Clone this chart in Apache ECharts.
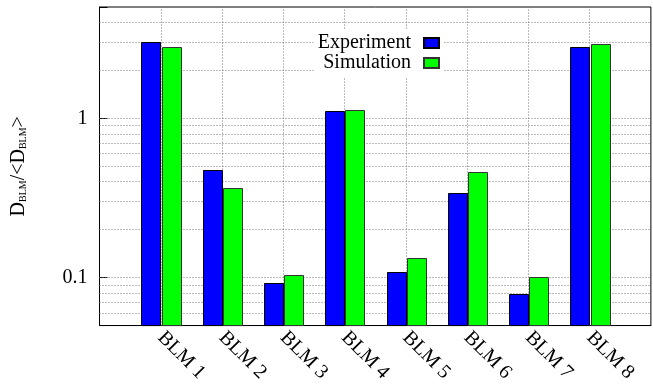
<!DOCTYPE html>
<html>
<head>
<meta charset="utf-8">
<script src="https://cdn.jsdelivr.net/npm/echarts@6/dist/echarts.min.js"></script>
<style>html,body{margin:0;padding:0;background:#fff;}#chart{width:653px;height:385px;}</style>
</head>
<body>
<div id="chart"></div>
<script>
// ---- data ----
const categories = ['BLM 1', 'BLM 2', 'BLM 3', 'BLM 4', 'BLM 5', 'BLM 6', 'BLM 7', 'BLM 8'];
const experiment = [3.0, 0.473, 0.093, 1.11, 0.109, 0.342, 0.079, 2.81];
const simulation = [2.82, 0.363, 0.104, 1.13, 0.132, 0.462, 0.101, 2.92];
const yTickLabels = [0.1, 1];
const gridLevels = [0.06, 0.07, 0.08, 0.09, 0.1, 0.2, 0.3, 0.4, 0.5, 0.6, 0.7, 0.8, 0.9, 1, 2, 3, 4];
const yMin = 0.05, yMax = 5;

// padded category axis: one empty slot on each side
const axisCats = [''].concat(categories, ['']);
const expData = experiment.map((v, i) => [i + 1, v]);
const simData = simulation.map((v, i) => [i + 1, v]);

const FONT = 'Liberation Serif, Times New Roman, serif';
const GRID_LINE = { color: '#777', type: [1, 2], width: 1 };

function makeRender(startFrac, widthFrac) {
  return function (params, api) {
    const cat = api.value(0), v = api.value(1);
    const top = api.coord([cat, v]);
    const base = api.coord([cat, yMin]);
    const band = api.size([1, 0])[0];
    const x = Math.round(top[0] + band * startFrac) + 0.5;
    const w = Math.round(band * widthFrac);
    const y = Math.round(top[1]) + 0.5;
    return {
      type: 'rect',
      shape: { x: x, y: y, width: w, height: base[1] - y },
      style: api.style()
    };
  };
}

const chart = echarts.init(document.getElementById('chart'), null, { renderer: 'canvas' });
chart.setOption({
  animation: false,
  backgroundColor: '#fff',
  textStyle: { fontFamily: FONT },
  grid: {
    left: 99.5, top: 7, width: 558, height: 319,
    show: true, borderColor: '#000', borderWidth: 1, backgroundColor: 'transparent'
  },
  legend: {
    data: ['Experiment', 'Simulation'],
    orient: 'vertical',
    align: 'right',
    right: 209, top: 29,
    icon: 'rect',
    itemWidth: 15, itemHeight: 10,
    itemGap: 0,
    padding: [4, 4, 4, 4],
    backgroundColor: '#fff',
    textStyle: { fontFamily: FONT, fontSize: 20, color: '#000', lineHeight: 20, padding: [0, 8, 0, 0] }
  },
  xAxis: {
    type: 'category',
    data: axisCats,
    boundaryGap: false,
    axisLine: { show: true, lineStyle: { color: '#000', width: 1 } },
    axisTick: { show: false },
    axisLabel: {
      interval: 0, rotate: -45, margin: 9,
      fontFamily: FONT, fontSize: 20, color: '#000'
    },
    splitLine: { show: false }
  },
  yAxis: {
    type: 'log',
    logBase: 10,
    min: yMin, max: yMax,
    name: '{a|D}{s|BLM}{a|/<D}{s|BLM}{a|>}',
    nameLocation: 'middle',
    nameRotate: 90,
    nameGap: 71,
    nameTextStyle: {
      rich: {
        a: { fontFamily: FONT, fontSize: 20, color: '#000', lineHeight: 22, verticalAlign: 'bottom' },
        s: { fontFamily: FONT, fontSize: 10, color: '#000', lineHeight: 10, verticalAlign: 'bottom' }
      }
    },
    axisLine: { show: true, lineStyle: { color: '#000', width: 1 } },
    axisTick: { show: true, inside: true, length: 8, lineStyle: { color: '#000' } },
    axisLabel: {
      margin: 12, fontFamily: FONT, fontSize: 20, color: '#000',
      formatter: function (v) {
        for (const t of yTickLabels) { if (Math.abs(v - t) / t < 1e-6) return String(t); }
        return '';
      }
    },
    splitLine: { show: false }
  },
  series: [
    {
      name: 'Experiment',
      type: 'custom',
      renderItem: makeRender(-0.315, 0.305),
      encode: { x: 0, y: 1 },
      data: expData,
      itemStyle: { color: '#0000ff', borderColor: '#000', borderWidth: 1 },
      markLine: {
        silent: true, z: 1, symbol: ['none', 'none'],
        label: { show: false },
        lineStyle: GRID_LINE,
        data: gridLevels.map(v => ({ yAxis: v })).concat(categories.map(c => ({ xAxis: c })))
      }
    },
    {
      name: 'Simulation',
      type: 'custom',
      renderItem: makeRender(0.015, 0.305),
      encode: { x: 0, y: 1 },
      data: simData,
      itemStyle: { color: '#00ff00', borderColor: '#333', borderWidth: 1 }
    }
  ]
});
</script>
</body>
</html>
